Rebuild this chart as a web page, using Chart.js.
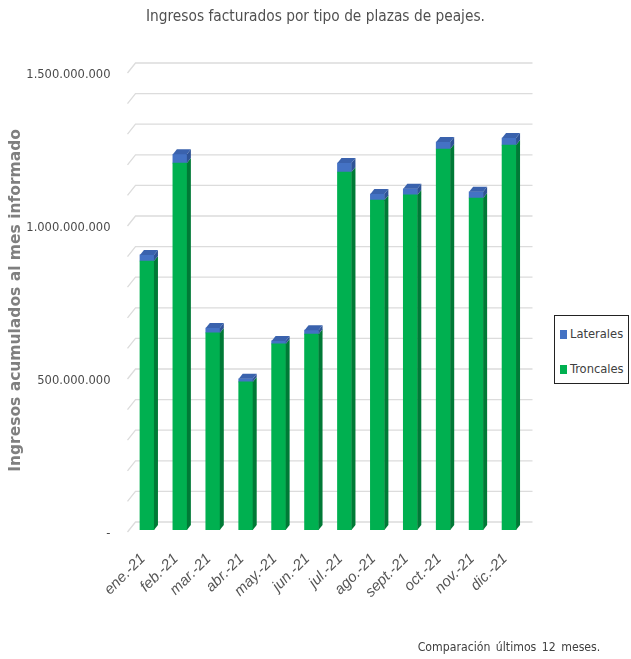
<!DOCTYPE html>
<html>
<head>
<meta charset="utf-8">
<script src="https://cdn.jsdelivr.net/npm/chart.js@4.4.1/dist/chart.umd.min.js"></script>
<style>
  html, body { margin: 0; padding: 0; background: #ffffff; }
  #wrap { position: relative; width: 631px; height: 659px; overflow: hidden; }
  #c { position: absolute; left: 0; top: 0; }
  #title { position: absolute; left: 0; width: 631px; top: 7px; text-align: center;
    font-family: 'DejaVu Sans Condensed', 'Liberation Sans Narrow', sans-serif;
    font-size: 15.3px; color: #505050; }
  #legend { position: absolute; left: 554px; top: 315px; width: 75px; height: 69px;
    border: 1.5px solid #222; box-sizing: border-box; background: #fff;
    font-family: 'DejaVu Sans Condensed', 'Liberation Sans Narrow', sans-serif;
    font-size: 12.8px; color: #404040; }
  .li { position: absolute; left: 5px; height: 18px; line-height: 18px; white-space: nowrap; }
  .sw { display: inline-block; width: 7px; height: 9px; margin-right: 3px; vertical-align: -1px; }
  #note { position: absolute; left: 380px; width: 258px; top: 640px; text-align: center;
    font-family: 'DejaVu Sans Condensed', 'Liberation Sans Narrow', sans-serif;
    font-size: 12.2px; color: #404040; word-spacing: 2px; }
</style>
</head>
<body>
<div id="wrap">
  <canvas id="c" width="631" height="659"></canvas>
  <div id="title">Ingresos facturados por tipo de plazas de peajes.</div>
  <div id="legend"></div>
  <div id="note">Comparación últimos 12 meses.</div>
</div>
<script>
// ---- Data (millions of pesos) ----
const categories = ['ene.-21','feb.-21','mar.-21','abr.-21','may.-21','jun.-21','jul.-21','ago.-21','sept.-21','oct.-21','nov.-21','dic.-21'];
const troncalesM = [879, 1199, 644, 484, 608, 640, 1170, 1078, 1095, 1245, 1085, 1258];
const lateralesM = [20, 29, 16, 10, 10, 13, 29, 20, 20, 23, 20, 23];
const seriesNames = ['Troncales', 'Laterales'];
const yTickLabels = [0, 500000000, 1000000000, 1500000000];

const troncales = troncalesM.map(v => v * 1e6);
const laterales = lateralesM.map(v => v * 1e6);

const GREEN = '#00B050', GREEN_SIDE = '#007A36';
const BLUE = '#4472C4', BLUE_SIDE = '#2F5395', BLUE_TOP = '#3A62AD';
const DX = 4, DY = 5;

function fmt(v) {
  if (v === 0) return '-';
  return String(Math.round(v)).replace(/\B(?=(\d{3})+(?!\d))/g, '.');
}

const backGrid = {
  id: 'backGrid',
  beforeDatasetsDraw(chart) {
    const y = chart.scales.y, a = chart.chartArea, ctx = chart.ctx;
    ctx.save();
    ctx.strokeStyle = '#DCDCDC';
    ctx.lineWidth = 1.3;
    for (let v = 0; v <= 1500000000; v += 100000000) {
      const p = y.getPixelForValue(v);
      ctx.beginPath();
      ctx.moveTo(a.left - 3, p + 2);
      ctx.lineTo(a.left + 5, p - 8);
      ctx.lineTo(a.right + 7, p - 8);
      ctx.stroke();
    }
    ctx.restore();
  }
};

const bars3d = {
  id: 'bars3d',
  afterDatasetsDraw(chart) {
    const ctx = chart.ctx;
    const n = chart.data.datasets.length;
    ctx.save();
    chart.data.datasets.forEach((ds, di) => {
      const meta = chart.getDatasetMeta(di);
      meta.data.forEach(el => {
        const {x, y, base, width} = el.getProps(['x','y','base','width'], true);
        const r = x + width / 2, l = x - width / 2;
        const top = Math.min(y, base), bot = Math.max(y, base);
        ctx.fillStyle = ds.sideColor;
        ctx.beginPath();
        ctx.moveTo(r, top); ctx.lineTo(r + DX, top - DY);
        ctx.lineTo(r + DX, bot - DY); ctx.lineTo(r, bot);
        ctx.closePath(); ctx.fill();
        if (di === n - 1) {
          ctx.fillStyle = ds.topColor;
          ctx.beginPath();
          ctx.moveTo(l, top); ctx.lineTo(l + DX, top - DY);
          ctx.lineTo(r + DX, top - DY); ctx.lineTo(r, top);
          ctx.closePath(); ctx.fill();
        }
      });
    });
    ctx.restore();
  }
};

const chart = new Chart(document.getElementById('c'), {
  type: 'bar',
  data: {
    labels: categories,
    datasets: [
      { label: seriesNames[0], data: troncales, backgroundColor: GREEN, sideColor: GREEN_SIDE, topColor: GREEN, barThickness: 14, borderWidth: 0 },
      { label: seriesNames[1], data: laterales, backgroundColor: BLUE, sideColor: BLUE_SIDE, topColor: BLUE_TOP, barThickness: 14, borderWidth: 0 }
    ]
  },
  options: {
    responsive: false,
    animation: false,
    layout: { padding: { left: 0, right: 105.5, top: 71, bottom: 0 } },
    plugins: { legend: { display: false }, tooltip: { enabled: false }, title: { display: false } },
    scales: {
      x: {
        stacked: true,
        grid: { display: false, drawTicks: false },
        border: { display: false },
        ticks: {
          autoSkip: false, minRotation: 45, maxRotation: 45, padding: 20, labelOffset: -4,
          color: '#555555',
          font: { family: "'Liberation Sans', Arial, sans-serif", size: 15, style: 'italic' }
        },
        afterFit(s) { s.height = 129; }
      },
      y: {
        stacked: true,
        min: 0, max: 1500000000,
        grid: { display: false, drawTicks: false },
        border: { display: false },
        afterBuildTicks(s) { s.ticks = yTickLabels.map(v => ({ value: v })); },
        ticks: {
          padding: 20, labelOffset: 4,
          color: '#4a4a4a',
          font: { family: "'DejaVu Sans Condensed', 'Liberation Sans Narrow', sans-serif", size: 12.8 },
          callback: v => fmt(v)
        },
        title: {
          display: true, text: 'Ingresos acumulados al mes informado',
          color: '#7F7F7F', padding: { top: 7, bottom: 0 },
          font: { family: "'DejaVu Sans', Verdana, sans-serif", size: 15.5, weight: 'bold' }
        },
        afterFit(s) { s.width = 130.5; }
      }
    }
  },
  plugins: [backGrid, bars3d]
});

// legend from dataset names (reverse order like the reference)
const leg = document.getElementById('legend');
const colors = [GREEN, BLUE];
[1, 0].forEach((i, k) => {
  const d = document.createElement('div');
  d.className = 'li';
  d.style.top = (k === 0 ? 9 : 44) + 'px';
  d.innerHTML = '<span class="sw" style="background:' + colors[i] + '"></span>' + seriesNames[i];
  leg.appendChild(d);
});
</script>
</body>
</html>
